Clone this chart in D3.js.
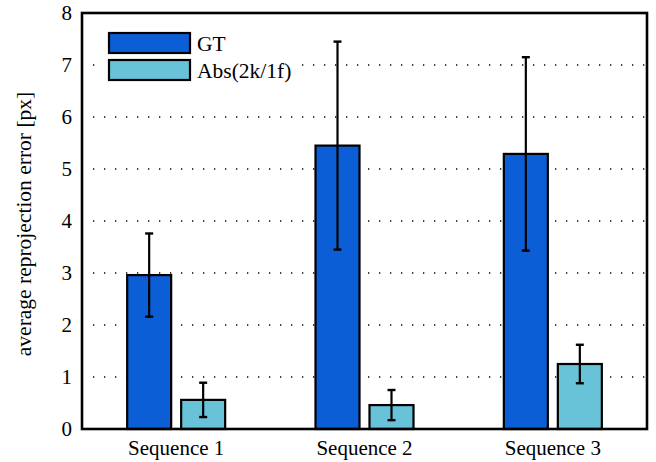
<!DOCTYPE html>
<html>
<head>
<meta charset="utf-8">
<script src="https://cdn.jsdelivr.net/npm/d3@7"></script>
<style>
  html, body { margin: 0; padding: 0; background: #fff; }
  svg { display: block; font-family: "Liberation Serif", "DejaVu Serif", serif; }
</style>
</head>
<body>
<div id="chart"></div>
<script>
  // data
  var categories = ['Sequence 1', 'Sequence 2', 'Sequence 3'];
  var seriesNames = ['GT', 'Abs(2k/1f)'];
  var seriesColors = ['#0c5ed7', '#68c3d9'];
  var gtMeans = [2.96, 5.45, 5.29];
  var gtErrors = [0.80, 2.00, 1.86];
  var absMeans = [0.56, 0.46, 1.25];
  var absErrors = [0.33, 0.29, 0.37];
  var yTicks = [0, 1, 2, 3, 4, 5, 6, 7, 8];

  var W = 656, H = 462;
  var margin = { top: 13, right: 9, bottom: 33, left: 82 };
  var width = W - margin.left - margin.right;
  var height = H - margin.top - margin.bottom;
  var serif = '"Liberation Serif", "DejaVu Serif", serif';

  var svg = d3.select('#chart').append('svg')
    .attr('width', W).attr('height', H);
  var g = svg.append('g')
    .attr('transform', 'translate(' + margin.left + ',' + margin.top + ')');

  var x0 = d3.scaleBand().domain(categories).range([0, width]).padding(0);
  var x1 = d3.scaleBand().domain(seriesNames).range([-49, 49]).paddingInner(0.185);
  var y = d3.scaleLinear().domain([0, 8]).range([height, 0]);

  // dotted grid
  g.append('g')
    .selectAll('line')
    .data(yTicks.filter(function(t) { return t > 0 && t < 8; }))
    .enter().append('line')
    .attr('x1', 11).attr('x2', width)
    .attr('y1', function(d) { return y(d); })
    .attr('y2', function(d) { return y(d); })
    .attr('stroke', '#000')
    .attr('stroke-width', 1.3)
    .attr('stroke-dasharray', '1.3,9.7');

  // legend background (covers the grid)
  var legend = g.append('g');
  legend.append('rect')
    .attr('x', 15).attr('y', 10).attr('width', 203).attr('height', 78)
    .attr('fill', '#fff');

  var rows = categories.map(function(c, i) {
    return [
      { cat: c, s: seriesNames[0], v: gtMeans[i], e: gtErrors[i], color: seriesColors[0] },
      { cat: c, s: seriesNames[1], v: absMeans[i], e: absErrors[i], color: seriesColors[1] }
    ];
  });
  var bars = [].concat.apply([], rows);

  function cx(d) { return x0(d.cat) + x0.bandwidth() / 2 + x1(d.s); }

  g.selectAll('rect.bar')
    .data(bars)
    .enter().append('rect')
    .attr('class', 'bar')
    .attr('x', cx)
    .attr('y', function(d) { return y(d.v); })
    .attr('width', x1.bandwidth())
    .attr('height', function(d) { return y(0) - y(d.v); })
    .attr('fill', function(d) { return d.color; })
    .attr('stroke', '#000')
    .attr('stroke-width', 2.2);

  // error bars
  var eb = g.selectAll('g.err').data(bars).enter().append('g').attr('class', 'err')
    .attr('transform', function(d) { return 'translate(' + (cx(d) + x1.bandwidth() / 2) + ',0)'; });
  eb.append('line')
    .attr('x1', 0).attr('x2', 0)
    .attr('y1', function(d) { return y(d.v + d.e); })
    .attr('y2', function(d) { return y(d.v - d.e); })
    .attr('stroke', '#000').attr('stroke-width', 2.2);
  eb.selectAll('line.cap')
    .data(function(d) { return [d.v + d.e, d.v - d.e]; })
    .enter().append('line')
    .attr('class', 'cap')
    .attr('x1', -4).attr('x2', 4)
    .attr('y1', function(v) { return y(v); })
    .attr('y2', function(v) { return y(v); })
    .attr('stroke', '#000').attr('stroke-width', 2.4);

  // legend entries
  seriesNames.forEach(function(name, i) {
    var ly = 20 + i * 27;
    legend.append('rect')
      .attr('x', 27).attr('y', ly).attr('width', 81).attr('height', 20)
      .attr('fill', seriesColors[i])
      .attr('stroke', '#000').attr('stroke-width', 2.2);
    legend.append('text')
      .attr('x', 115).attr('y', ly + 18)
      .attr('font-size', 21.5)
      .attr('fill', '#000')
      .text(name);
  });

  // box
  g.append('rect')
    .attr('x', 0).attr('y', 0).attr('width', width).attr('height', height)
    .attr('fill', 'none').attr('stroke', '#000').attr('stroke-width', 2.6);

  // axes
  g.append('g')
    .attr('transform', 'translate(0,' + height + ')')
    .call(d3.axisBottom(x0).tickSize(0).tickPadding(11))
    .attr('font-family', serif).attr('font-size', 21)
    .call(function(a) {
      a.select('.domain').remove();
      a.selectAll('text').attr('fill', '#000');
    });

  g.append('g')
    .call(d3.axisLeft(y).tickValues(yTicks).tickSize(0).tickPadding(10)
      .tickFormat(d3.format('d')))
    .attr('font-family', serif).attr('font-size', 21)
    .call(function(a) {
      a.select('.domain').remove();
      a.selectAll('text').attr('fill', '#000');
    });

  svg.append('text')
    .attr('transform', 'translate(31,' + (margin.top + height / 2 + 3) + ') rotate(-90)')
    .attr('text-anchor', 'middle')
    .attr('font-size', 21.5)
    .attr('fill', '#000')
    .text('average reprojection error [px]');
</script>
</body>
</html>
